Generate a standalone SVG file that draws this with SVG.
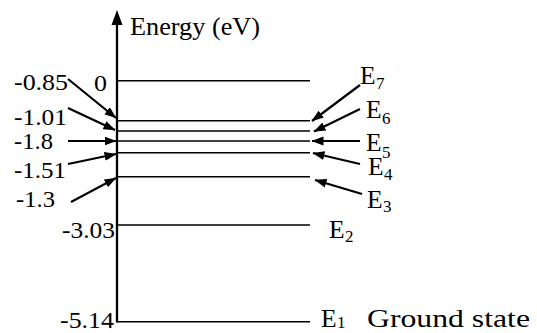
<svg xmlns="http://www.w3.org/2000/svg" width="537" height="333" viewBox="0 0 537 333">
<defs>
<style>
text{font-family:'Liberation Serif','Times New Roman',serif;fill:#000}
.num{font-size:23.5px}
.lab{font-size:25.5px}
.sub{font-size:17px}
.lvl{stroke:#000;stroke-width:1.6;fill:none}
.ptr{stroke:#000;stroke-width:2.2;fill:none;marker-end:url(#ah)}
</style>
<marker id="ah" markerUnits="userSpaceOnUse" markerWidth="12" markerHeight="10" viewBox="0 0 12 10" refX="11.5" refY="5" orient="auto">
<path d="M0,0.6 L12,5 L0,9.4 Z" fill="#000"/>
</marker>
</defs>
<rect width="537" height="333" fill="#fff"/>
<g id="axis">
<line x1="117" y1="22" x2="117" y2="322.5" stroke="#000" stroke-width="2.3"/>
<path d="M117,10 L111.5,25 L122.5,25 Z" fill="#000"/>
<text class="lab" x="130" y="35" textLength="130" lengthAdjust="spacingAndGlyphs">Energy (eV)</text>
</g>
<g id="levels">
<g id="E7"><line class="lvl" x1="117" y1="80.7" x2="310" y2="80.7"/><text class="lab" x="360" y="84">E</text><text class="sub" x="376" y="89">7</text></g>
<g id="E6"><line class="lvl" x1="117" y1="120.7" x2="310" y2="120.7"/><text class="lab" x="366" y="118">E</text><text class="sub" x="382" y="124">6</text></g>
<g id="E5"><line class="lvl" x1="117" y1="131" x2="310" y2="131"/><text class="lab" x="366" y="151">E</text><text class="sub" x="382" y="158">5</text></g>
<g id="E4"><line class="lvl" x1="117" y1="141" x2="310" y2="141"/><text class="lab" x="368" y="175">E</text><text class="sub" x="384" y="180">4</text></g>
<g id="E3"><line class="lvl" x1="117" y1="152.7" x2="310" y2="152.7"/><text class="lab" x="367" y="208">E</text><text class="sub" x="383" y="212">3</text></g>
<g id="E2lvl"><line class="lvl" x1="117" y1="176.7" x2="310" y2="176.7"/></g>
<g id="E2"><line class="lvl" x1="117" y1="225" x2="310" y2="225"/><text class="lab" x="329" y="238">E</text><text class="sub" x="345" y="242">2</text></g>
<g id="E1"><line class="lvl" x1="117" y1="321.7" x2="310" y2="321.7"/><text class="lab" x="321" y="327">E</text><text class="sub" x="337" y="328">1</text><text class="lab" x="367" y="327" textLength="163" lengthAdjust="spacingAndGlyphs">Ground state</text></g>
</g>
<g id="values">
<text class="num" x="94" y="90.5" textLength="13" lengthAdjust="spacingAndGlyphs">0</text>
<text class="num" x="14" y="90" textLength="54" lengthAdjust="spacingAndGlyphs">-0.85</text>
<text class="num" x="14" y="125" textLength="53" lengthAdjust="spacingAndGlyphs">-1.01</text>
<text class="num" x="14" y="148.5" textLength="39" lengthAdjust="spacingAndGlyphs">-1.8</text>
<text class="num" x="14" y="178" textLength="52" lengthAdjust="spacingAndGlyphs">-1.51</text>
<text class="num" x="16" y="207" textLength="39" lengthAdjust="spacingAndGlyphs">-1.3</text>
<text class="num" x="62" y="238" textLength="53" lengthAdjust="spacingAndGlyphs">-3.03</text>
<text class="num" x="60" y="328" textLength="54" lengthAdjust="spacingAndGlyphs">-5.14</text>
</g>
<g id="connectors">
<line class="ptr" x1="68" y1="79" x2="116" y2="118"/>
<line class="ptr" x1="68" y1="108" x2="115" y2="130"/>
<line class="ptr" x1="68" y1="141" x2="116" y2="141"/>
<line class="ptr" x1="68" y1="164" x2="116" y2="154"/>
<line class="ptr" x1="71" y1="202" x2="116" y2="178"/>
<line class="ptr" x1="360" y1="85" x2="312" y2="121"/>
<line class="ptr" x1="360" y1="109" x2="314" y2="131.5"/>
<line class="ptr" x1="360" y1="141" x2="312" y2="141"/>
<line class="ptr" x1="360" y1="164" x2="313" y2="153"/>
<line class="ptr" x1="362" y1="194" x2="315" y2="180"/>
</g>
</svg>
